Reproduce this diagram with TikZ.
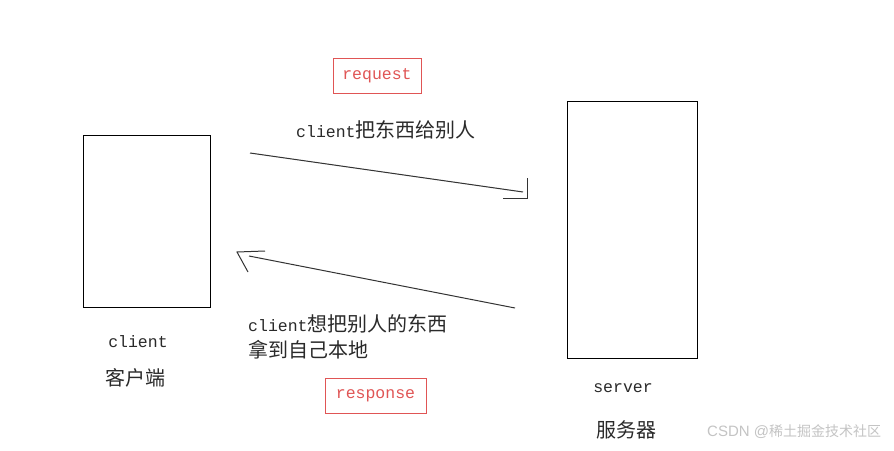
\documentclass[tikz,border=0pt]{standalone}
\usepackage{fontspec}
\setmainfont{Liberation Sans}
\newfontfamily\mono{Liberation Mono}
\newfontfamily\cjk{Noto Sans CJK SC}
\definecolor{txt}{HTML}{2A2A2A}
\definecolor{redb}{HTML}{E05555}
\definecolor{wm}{HTML}{C4C4C4}
\begin{document}
\begin{tikzpicture}[x=1pt,y=-1pt,
  box/.style={draw=black,line width=0.8pt},
  tag/.style={draw=redb,line width=0.9pt,text=redb,font=\mono\fontsize{16.5}{18}\selectfont,inner sep=0pt},
  lbl/.style={text=txt,inner sep=0pt},
  conn/.style={draw=black!80,line width=1pt}]
\useasboundingbox[fill=white] (0,0) rectangle (894,450);
% boxes
\node[box,minimum width=127pt,minimum height=172pt,inner sep=0pt] (client) at (146.5,221) {};
\node[box,minimum width=130pt,minimum height=257pt,inner sep=0pt] (server) at (632,229.5) {};
% tags
\node[tag,minimum width=88pt,minimum height=35pt] (req) at (377,75.5) {request};
\node[tag,minimum width=101pt,minimum height=35pt] (resp) at (375.5,395.5) {response};
% labels
\node[lbl,anchor=west] (t1) at (296,130) {\mono\fontsize{16.5}{20}\selectfont client\cjk\fontsize{20}{22}\selectfont 把东西给别人};
\node[lbl,anchor=west] (t2) at (248,324) {\mono\fontsize{16.5}{20}\selectfont client\cjk\fontsize{20}{22}\selectfont 想把别人的东西};
\node[lbl,anchor=west] (t3) at (248,350) {\cjk\fontsize{20}{22}\selectfont 拿到自己本地};
\node[lbl] (cl) at (138,342) {\mono\fontsize{16.5}{20}\selectfont client};
\node[lbl] (clc) at (135,378) {\cjk\fontsize{20}{22}\selectfont 客户端};
\node[lbl] (sv) at (623,388) {\mono\fontsize{16.5}{20}\selectfont server};
\node[lbl] (svc) at (626,430) {\cjk\fontsize{20}{22}\selectfont 服务器};
\node[lbl,text=wm,anchor=west] (wmk) at (707,432) {\fontsize{15}{18}\selectfont CSDN @\cjk\fontsize{14}{18}\selectfont 稀土掘金技术社区};
% connector 1 (request)
\coordinate (a1s) at (250,153);
\coordinate (a1e) at (523,192);
\coordinate (h1a) at (527,178);
\coordinate (h1b) at (527,198);
\coordinate (h1c) at (503,198);
\draw[conn] (a1s) -- (a1e);
\draw[conn] (h1a) -- (h1b) -- (h1c);
% connector 2 (response)
\coordinate (a2s) at (515,308);
\coordinate (a2e) at (249,256);
\coordinate (h2a) at (265,251);
\coordinate (h2b) at (237,252);
\coordinate (h2c) at (248,272);
\draw[conn] (a2s) -- (a2e);
\draw[conn] (h2a) -- (h2b) -- (h2c);
\end{tikzpicture}
\end{document}
